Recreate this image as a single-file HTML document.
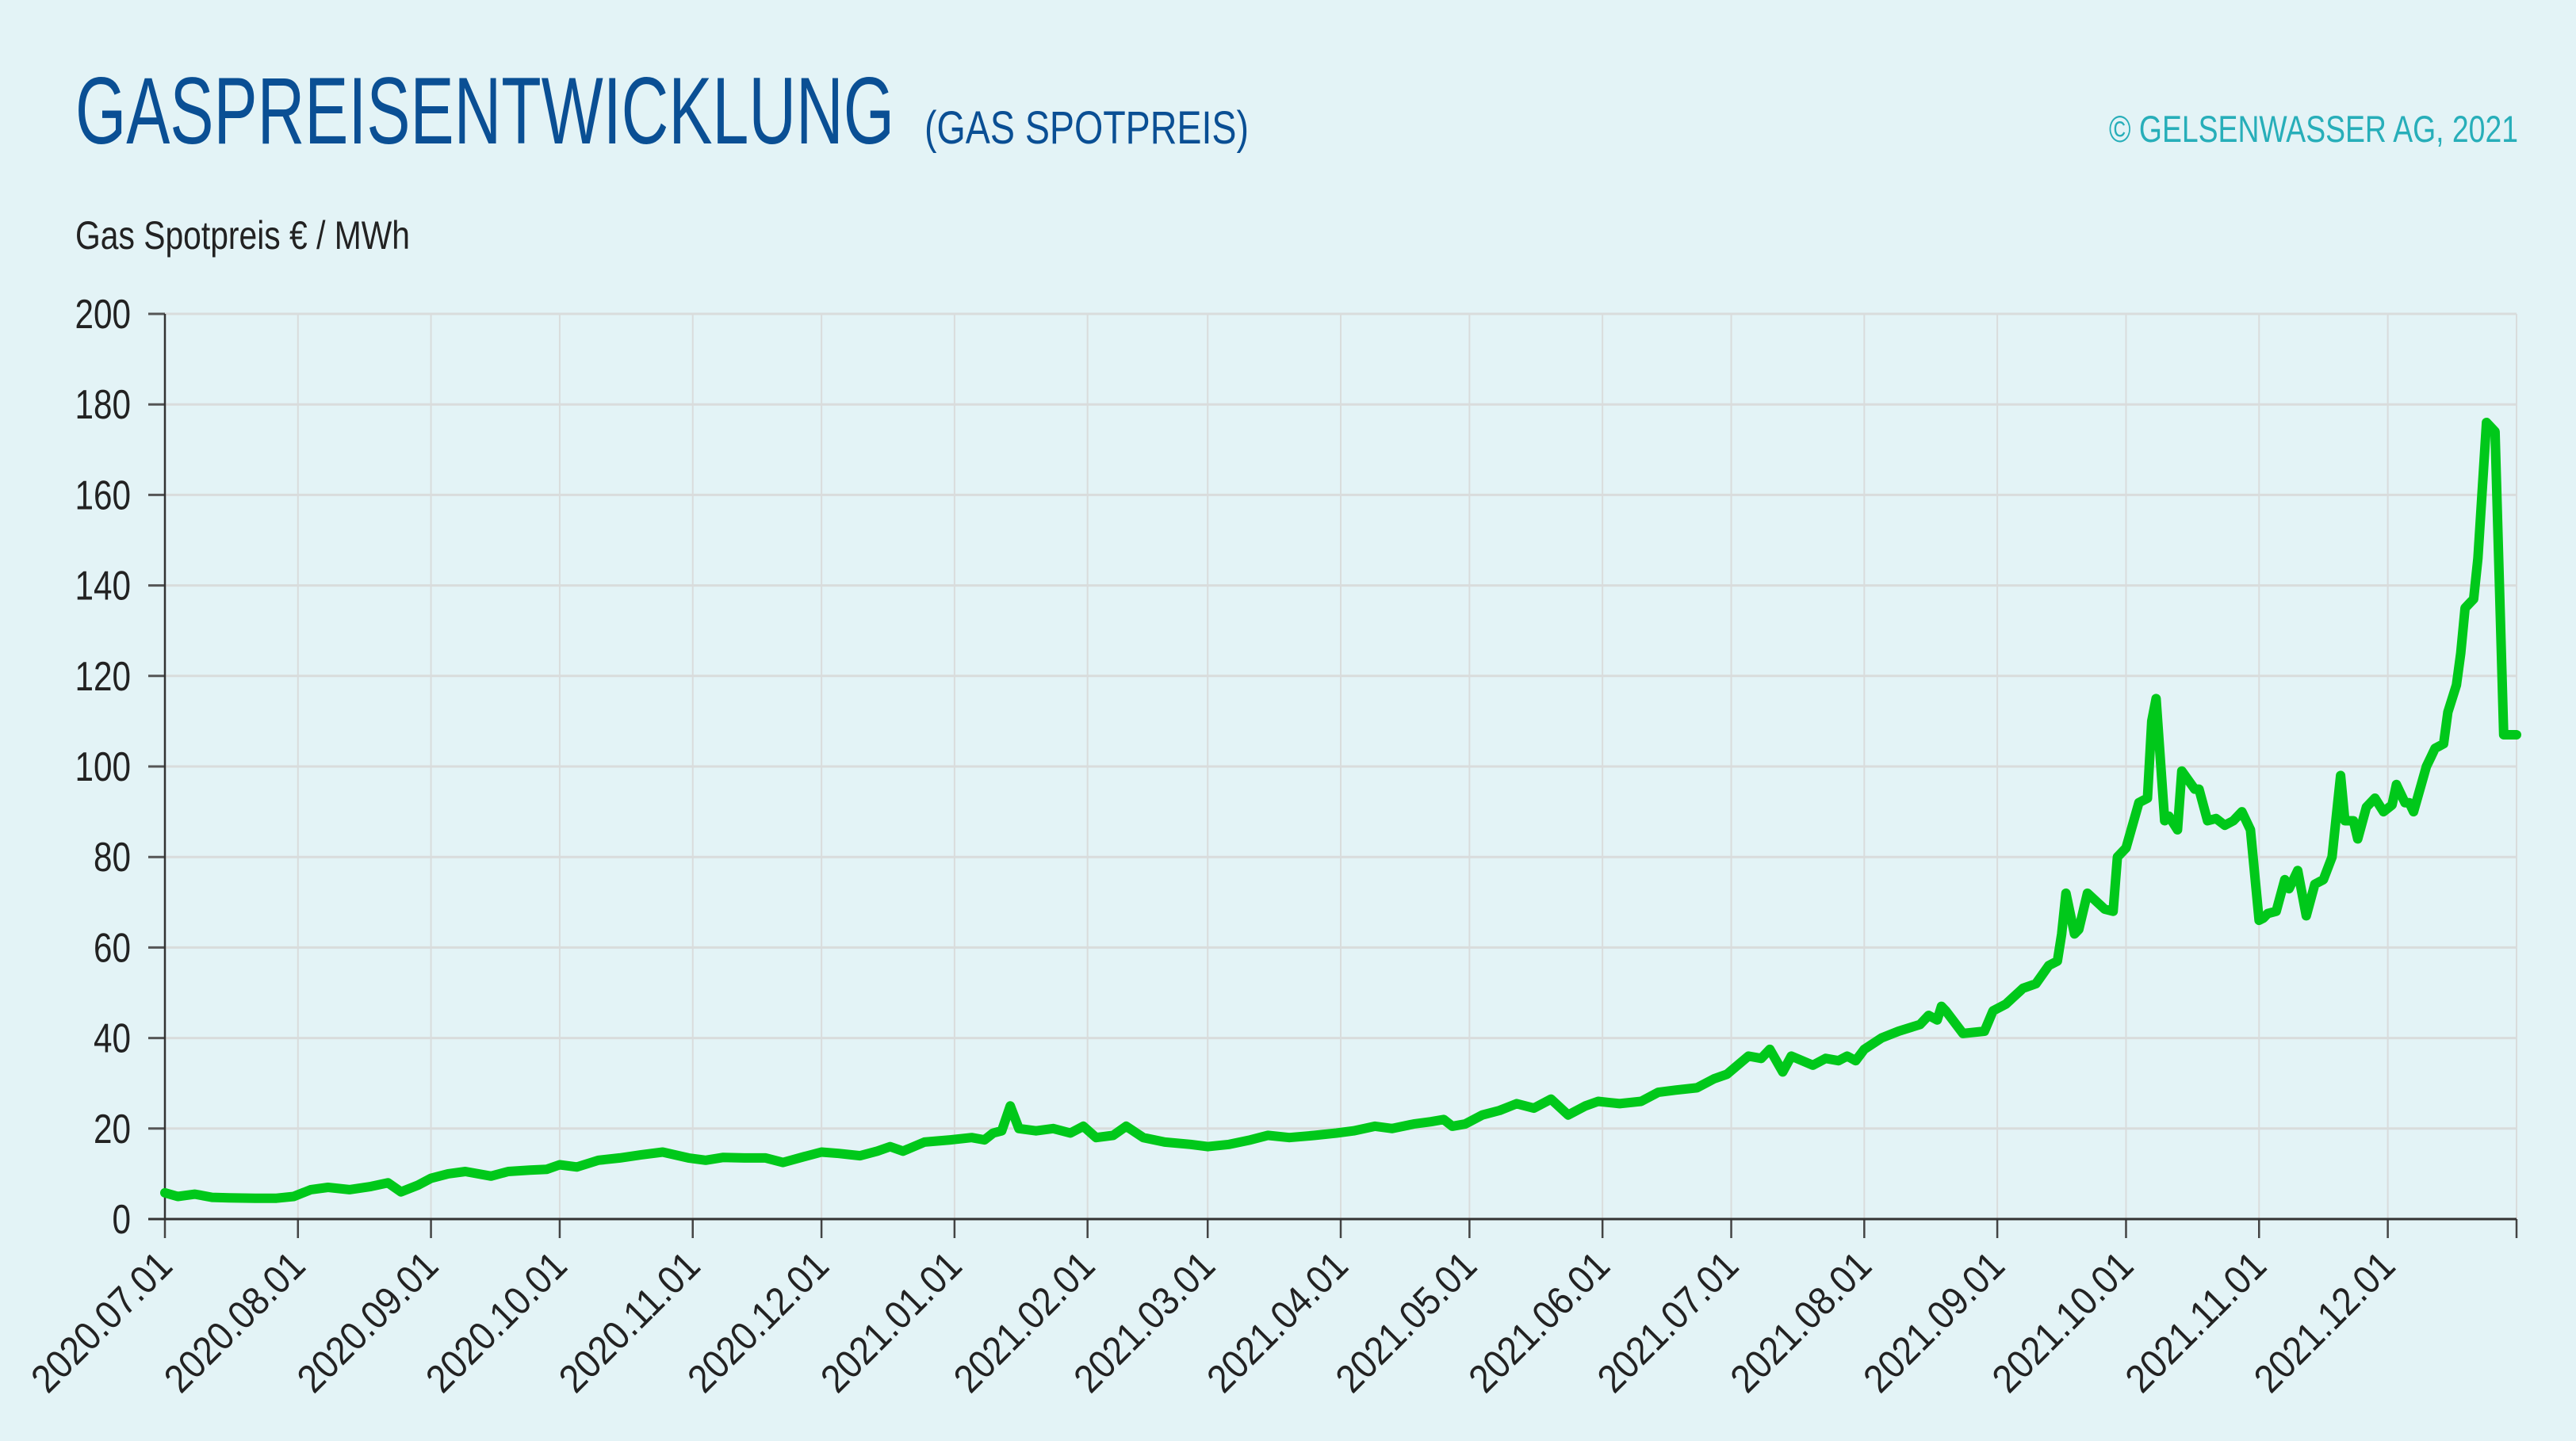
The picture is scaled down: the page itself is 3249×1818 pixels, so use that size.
<!DOCTYPE html>
<html><head><meta charset="utf-8"><style>
html,body{margin:0;padding:0;background:#e3f3f6;}
svg{display:block;font-family:"Liberation Sans",sans-serif;}
</style></head><body>
<svg id="chart" width="3249" height="1818" viewBox="0 0 3249 1818" xmlns="http://www.w3.org/2000/svg">
<rect width="3249" height="1818" fill="#e3f3f6"/>
<text x="95" y="181" font-size="120" fill="#0a4f94" textLength="1033" lengthAdjust="spacingAndGlyphs">GASPREISENTWICKLUNG</text>
<text x="1166" y="181" font-size="58" fill="#0a4f94" textLength="409" lengthAdjust="spacingAndGlyphs">(GAS SPOTPREIS)</text>
<text x="2660" y="179" font-size="47" fill="#27aeb9" textLength="516" lengthAdjust="spacingAndGlyphs">© GELSENWASSER AG, 2021</text>
<text x="95" y="314" font-size="50" fill="#222" textLength="422" lengthAdjust="spacingAndGlyphs">Gas Spotpreis € / MWh</text>
<g id="grid"></g><g id="axes"></g><g id="series"></g>
</svg>
<script>
const yTicks=[0,20,40,60,80,100,120,140,160,180,200];
const xTickLabels=["2020.07.01","2020.08.01","2020.09.01","2020.10.01","2020.11.01","2020.12.01","2021.01.01","2021.02.01","2021.03.01","2021.04.01","2021.05.01","2021.06.01","2021.07.01","2021.08.01","2021.09.01","2021.10.01","2021.11.01","2021.12.01"];
const dates=["2020.07.01","2020.07.04","2020.07.08","2020.07.12","2020.07.16","2020.07.22","2020.07.27","2020.07.31","2020.08.04","2020.08.08","2020.08.13","2020.08.18","2020.08.22","2020.08.25","2020.08.29","2020.09.01","2020.09.05","2020.09.09","2020.09.15","2020.09.19","2020.09.24","2020.09.28","2020.10.01","2020.10.05","2020.10.10","2020.10.15","2020.10.20","2020.10.25","2020.10.31","2020.11.04","2020.11.08","2020.11.13","2020.11.18","2020.11.22","2020.11.27","2020.12.01","2020.12.05","2020.12.10","2020.12.14","2020.12.17","2020.12.20","2020.12.25","2020.12.31","2021.01.05","2021.01.08","2021.01.10","2021.01.12","2021.01.14","2021.01.16","2021.01.20","2021.01.24","2021.01.28","2021.01.31","2021.02.03","2021.02.07","2021.02.10","2021.02.14","2021.02.19","2021.02.25","2021.03.01","2021.03.06","2021.03.11","2021.03.15","2021.03.20","2021.03.26","2021.03.31","2021.04.04","2021.04.09","2021.04.13","2021.04.18","2021.04.22","2021.04.25","2021.04.27","2021.04.30","2021.05.04","2021.05.08","2021.05.12","2021.05.16","2021.05.20","2021.05.24","2021.05.28","2021.05.31","2021.06.05","2021.06.10","2021.06.14","2021.06.18","2021.06.23","2021.06.27","2021.06.30","2021.07.05","2021.07.08","2021.07.10","2021.07.13","2021.07.15","2021.07.20","2021.07.23","2021.07.26","2021.07.28","2021.07.30","2021.08.01","2021.08.05","2021.08.09","2021.08.14","2021.08.16","2021.08.18","2021.08.19","2021.08.20","2021.08.24","2021.08.29","2021.08.31","2021.09.03","2021.09.07","2021.09.10","2021.09.13","2021.09.15","2021.09.16","2021.09.17","2021.09.19","2021.09.20","2021.09.22","2021.09.26","2021.09.28","2021.09.29","2021.10.01","2021.10.04","2021.10.05","2021.10.06","2021.10.07","2021.10.08","2021.10.10","2021.10.11","2021.10.13","2021.10.14","2021.10.17","2021.10.18","2021.10.20","2021.10.22","2021.10.24","2021.10.26","2021.10.28","2021.10.30","2021.11.01","2021.11.02","2021.11.03","2021.11.05","2021.11.07","2021.11.08","2021.11.10","2021.11.12","2021.11.14","2021.11.16","2021.11.18","2021.11.20","2021.11.21","2021.11.23","2021.11.24","2021.11.26","2021.11.28","2021.11.30","2021.12.02","2021.12.03","2021.12.05","2021.12.06","2021.12.07","2021.12.10","2021.12.11","2021.12.12","2021.12.14","2021.12.15","2021.12.17","2021.12.18","2021.12.19","2021.12.20","2021.12.21","2021.12.22","2021.12.24","2021.12.26","2021.12.28","2021.12.31"];
const prices=[5.8,5,5.5,4.8,4.7,4.6,4.6,5,6.5,7,6.5,7.2,8,6,7.5,9,10,10.5,9.5,10.5,10.8,11,12,11.5,13,13.5,14.2,14.8,13.5,13,13.6,13.5,13.5,12.5,13.8,14.8,14.5,14,15,16,15,17,17.5,18,17.5,19,19.5,25,20,19.5,20,19,20.5,18,18.5,20.5,18,17,16.5,16,16.5,17.5,18.5,18,18.5,19,19.5,20.5,20,21,21.5,22,20.5,21,23,24,25.5,24.5,26.5,23,25,26,25.5,26,28,28.5,29,31,32,36,35.5,37.5,32.5,36,34,35.5,35,36,35,37.5,40,41.5,43,45,44,47,46,41,41.5,46,47.5,51,52,56,57,63,72,63,64,72,68.5,68,80,82,92,92.5,93,110,115,88,89,86,99,95,95,88,88.5,87,88,90,86,66,66.5,67.5,68,75,73,77,67,74,75,80,98,88,88,84,91,93,90,91.5,96,92,92,90,100,102,104,105,112,118,125,135,136,137,146,176,174,107,107,107.5,84];
const X0=208,X1=3174,Y0=1538,Y1=396;
const day=s=>{const p=s.split('.').map(Number);return (Date.UTC(p[0],p[1]-1,p[2])-Date.UTC(2020,6,1))/864e5;};
const TOTAL=day("2021.12.31");
const xScale=d=>X0+(day(d)/TOTAL)*(X1-X0);
const yScale=v=>Y0-(v/200)*(Y0-Y1);
const NS="http://www.w3.org/2000/svg";
const mk=(t,a,parent)=>{const e=document.createElementNS(NS,t);for(const k in a)e.setAttribute(k,a[k]);document.getElementById(parent).appendChild(e);return e;};
yTicks.forEach(v=>{
  const y=yScale(v);
  if(v>0){const g=mk('line',{x1:X0,x2:X1,y1:y,y2:y,stroke:'#d9dcdc','stroke-width':3},'grid');
  
  }
  const t=mk('line',{x1:187,x2:X0,y1:y,y2:y,stroke:'#555','stroke-width':3},'axes');
  
  
  const l=mk('text',{x:165,y:y+18,'font-size':52,fill:'#222','text-anchor':'end',textLength:String(v).length*23.5,lengthAdjust:'spacingAndGlyphs'},'axes');
  l.textContent=v;
  
  
});
xTickLabels.concat(["2021.12.31"]).forEach((d,i)=>{
  const x=xScale(d);
  const g=mk('line',{x1:x,x2:x,y1:Y1,y2:Y0,stroke:'#d9dcdc','stroke-width':2},'grid');
  
  
  const t=mk('line',{x1:x,x2:x,y1:Y0,y2:Y0+24,stroke:'#444','stroke-width':2.5},'axes');
  
  
  if(i<xTickLabels.length){
  const l=mk('text',{x:0,y:0,'font-size':50,fill:'#222','text-anchor':'end',textLength:226,lengthAdjust:'spacingAndGlyphs',transform:`translate(${x+12},${Y0+62}) rotate(-45)`},'axes');
  l.textContent=d;
  
  }
});
const ya=mk('line',{x1:X0,x2:X0,y1:Y1,y2:Y0,stroke:'#333','stroke-width':2.5},'axes');


const xa=mk('line',{x1:187,x2:X1,y1:Y0,y2:Y0,stroke:'#333','stroke-width':3},'axes');


const pts=dates.map((d,i)=>xScale(d).toFixed(1)+','+yScale(prices[i]).toFixed(1)).join(' ');
const pl=mk('polyline',{points:pts,fill:'none',stroke:'#00c81a','stroke-width':12,'stroke-linejoin':'round','stroke-linecap':'round'},'series');


</script>
</body></html>
